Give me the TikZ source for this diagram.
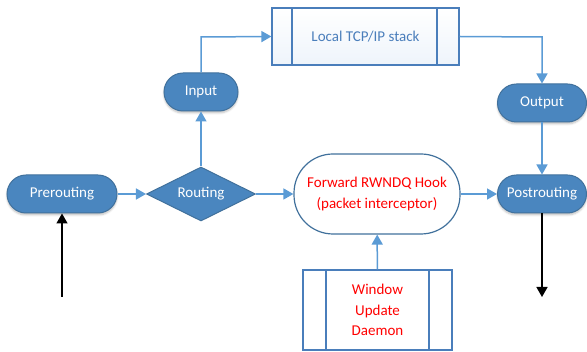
\documentclass[tikz,border=0pt]{standalone}
\usepackage{fontspec}
\setmainfont{Carlito}
\usetikzlibrary{shapes.geometric,arrows.meta,shadows.blur}
\definecolor{pillfill}{HTML}{4A86BF}
\definecolor{pilldraw}{HTML}{41719C}
\definecolor{linkblue}{HTML}{5B9BD5}
\definecolor{boxfill}{HTML}{EEF4FB}
\definecolor{boxdraw}{HTML}{4A7EBB}
\begin{document}
\begin{tikzpicture}[x=1pt,y=-1pt,
  font=\fontsize{15}{20.5}\selectfont,
  pill/.style={draw=pilldraw, fill=pillfill, rounded corners=19pt, line width=1pt, text=white, minimum height=38pt, inner sep=2pt, blur shadow={shadow blur steps=5, shadow xshift=0pt, shadow yshift=-2pt, shadow opacity=25}},
  link/.style={draw=linkblue, line width=1.5pt, -{Triangle[length=10pt,width=11pt]}},
  blk/.style={draw=black, line width=1.5pt, -{Triangle[length=10pt,width=11pt]}},
  proc/.style={draw=boxdraw, line width=1.2pt}
]
\useasboundingbox (0,0) rectangle (587,352);
% nodes
\node[pill, minimum width=110pt] (pre) at (62,194) {Prerouting};
\node[diamond, aspect=2, fill=pillfill, draw=pilldraw, line width=1pt, text=white, minimum width=109pt, minimum height=54pt, inner sep=0pt] (rt) at (201,194) {Routing};
\node[pill, minimum width=74pt] (in) at (201,92) {Input};
\node[pill, minimum width=89pt] (out) at (542,103) {Output};
\node[pill, minimum width=89pt] (post) at (542,194) {Postrouting};
\node[draw=pilldraw, fill=white, rounded corners=39pt, line width=1.2pt, text=red, minimum width=166pt, minimum height=80pt, align=center, inner sep=1pt] (fwd) at (377,194) {Forward RWNDQ Hook\\(packet interceptor)};
% TCP stack box
\node[proc, top color=white, bottom color=boxfill, minimum width=187pt, minimum height=57pt, text=boxdraw] (tcp) at (365.5,36.5) {Local TCP/IP stack};
\draw[proc] (292,8) -- (292,65) (437,8) -- (437,65);
% daemon box
\node[proc, fill=white, minimum width=149pt, minimum height=80pt, text=red, align=center] (dmn) at (377.5,310) {Window\\Update\\Daemon};
\draw[proc] (326,270) -- (326,350) (429,270) -- (429,350);
% coordinates
\coordinate (inTop) at (201,37);
\coordinate (tcpR) at (542,37);
\coordinate (srcIn) at (62,297);
\coordinate (sinkOut) at (542,297);
% connectors
\draw[link] (pre) -- (rt);
\draw[link] (rt) -- (fwd);
\draw[link] (rt) -- (in);
\draw[link] (in.north) -- (inTop) -- (tcp.west);
\draw[link] (tcp.east) -- (tcpR) -- (out.north);
\draw[link] (out) -- (post);
\draw[link] (fwd) -- (post);
\draw[link] (dmn) -- (fwd);
\draw[blk] (srcIn) -- (pre.south);
\draw[blk] (post.south) -- (sinkOut);
\end{tikzpicture}
\end{document}
